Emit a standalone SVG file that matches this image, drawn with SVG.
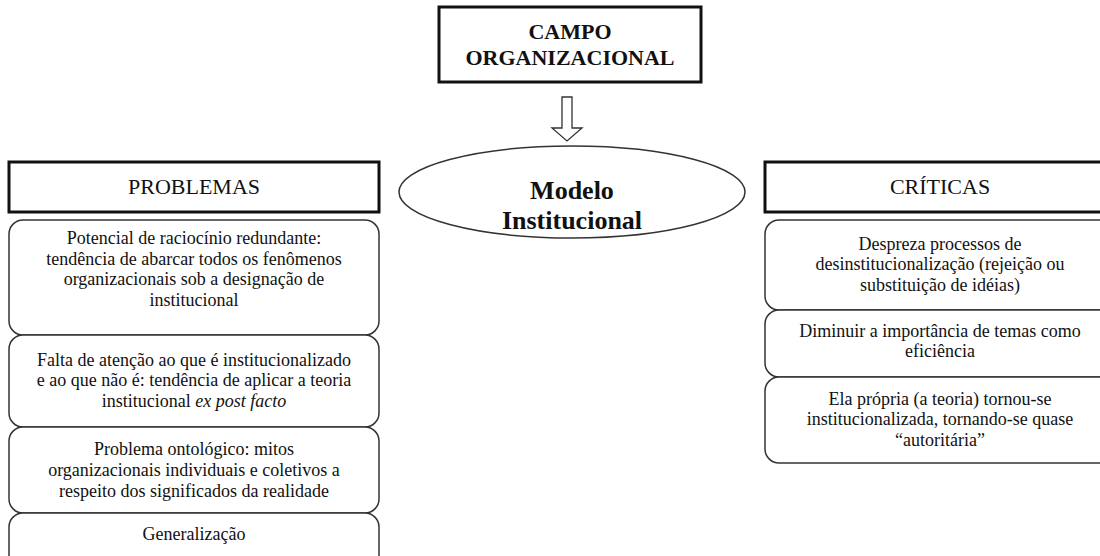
<svg xmlns="http://www.w3.org/2000/svg" width="1100" height="556" viewBox="0 0 1100 556">
<style>
.hdr{fill:#fff;stroke:#111;stroke-width:3}
.item{fill:#fff;stroke:#333;stroke-width:1.5}
.t{font-family:"Liberation Serif","Times New Roman",serif;fill:#111;text-anchor:middle}
.b{font-size:18px}
.h{font-size:22px}
.bold{font-weight:bold}
</style>
<rect x="0" y="0" width="1100" height="556" fill="#fff"/>
<g id="campo">
<rect class="hdr" x="439" y="7" width="262" height="75"/>
<text class="t bold" font-size="22" x="570" y="39">CAMPO</text>
<text class="t bold" font-size="22" x="570" y="65">ORGANIZACIONAL</text>
</g>
<g id="connectors">
<polygon points="562,97 572,97 572,128 582,128 567,141 552,128 562,128" fill="#fff" stroke="#333" stroke-width="1.3"/>
</g>
<g id="modelo">
<ellipse cx="572" cy="192" rx="173" ry="46" fill="#fff" stroke="#333" stroke-width="1.5"/>
<text class="t bold" font-size="26" x="572" y="199">Modelo</text>
<text class="t bold" font-size="26" x="572" y="229">Institucional</text>
</g>
<g id="problemas">
<rect class="hdr" x="9" y="162" width="370" height="50"/>
<text class="t h" x="194" y="194">PROBLEMAS</text>
</g>
<g id="p1">
<rect class="item" x="9" y="220" width="370" height="115" rx="14"/>
<text class="t b" x="194" y="244">Potencial de raciocínio redundante:</text>
<text class="t b" x="194" y="265">tendência de abarcar todos os fenômenos</text>
<text class="t b" x="194" y="285">organizacionais sob a designação de</text>
<text class="t b" x="194" y="306">institucional</text>
</g>
<g id="p2">
<rect class="item" x="9" y="335" width="370" height="92" rx="14"/>
<text class="t b" x="194" y="366">Falta de atenção ao que é institucionalizado</text>
<text class="t b" x="194" y="386">e ao que não é: tendência de aplicar a teoria</text>
<text class="t b" x="194" y="407">institucional <tspan font-style="italic">ex post facto</tspan></text>
</g>
<g id="p3">
<rect class="item" x="9" y="427" width="370" height="86" rx="14"/>
<text class="t b" x="194" y="455">Problema ontológico: mitos</text>
<text class="t b" x="194" y="476">organizacionais individuais e coletivos a</text>
<text class="t b" x="194" y="497">respeito dos significados da realidade</text>
</g>
<g id="p4">
<rect class="item" x="9" y="513" width="370" height="60" rx="14"/>
<text class="t b" x="194" y="540">Generalização</text>
</g>
<g id="criticas">
<rect class="hdr" x="765" y="162" width="360" height="50"/>
<text class="t h" x="940" y="194">CRÍTICAS</text>
</g>
<g id="c1">
<rect class="item" x="765" y="220" width="360" height="90" rx="14"/>
<text class="t b" x="940" y="250">Despreza processos de</text>
<text class="t b" x="940" y="270">desinstitucionalização (rejeição ou</text>
<text class="t b" x="940" y="291">substituição de idéias)</text>
</g>
<g id="c2">
<rect class="item" x="765" y="310" width="360" height="67" rx="14"/>
<text class="t b" x="940" y="337">Diminuir a importância de temas como</text>
<text class="t b" x="940" y="357">eficiência</text>
</g>
<g id="c3">
<rect class="item" x="765" y="377" width="360" height="86" rx="14"/>
<text class="t b" x="940" y="405">Ela própria (a teoria) tornou-se</text>
<text class="t b" x="940" y="425">institucionalizada, tornando-se quase</text>
<text class="t b" x="940" y="446">“autoritária”</text>
</g>
</svg>
